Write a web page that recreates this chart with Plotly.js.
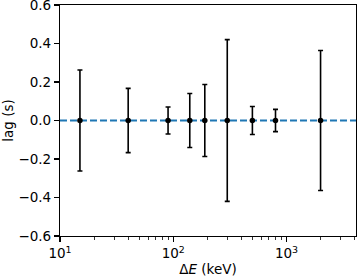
<!DOCTYPE html>
<html><head><meta charset="utf-8">
<script src="https://cdn.plot.ly/plotly-3.0.1.min.js"></script>
<style>html,body{margin:0;padding:0;background:#fff}#c{width:357px;height:277px}</style>
</head><body><div id="c"></div>
<script>
const energy = [15, 40, 90, 140, 190, 300, 500, 800, 2000];
const lag = [0, 0, 0, 0, 0, 0, 0, 0, 0];
const lagErr = [0.262, 0.167, 0.070, 0.140, 0.187, 0.420, 0.073, 0.058, 0.364];
const xTickVals = [10, 100, 1000];
const xTickText = ['10<sup>1</sup>', '10<sup>2</sup>', '10<sup>3</sup>'];
const refLag = 0;

const font = {family: 'DejaVu Sans', size: 13.5, color: '#000'};
const traces = [{
  x: energy, y: lag, type: 'scatter', mode: 'markers',
  marker: {color: '#000', size: 5.5},
  error_y: {type: 'data', array: lagErr, visible: true, color: '#000', thickness: 1.6, width: 2.5},
  showlegend: false, hoverinfo: 'skip'
}];
const layout = {
  width: 357, height: 277,
  margin: {l: 60.3, r: 0.7, t: 5, b: 41},
  paper_bgcolor: '#fff', plot_bgcolor: '#fff',
  font: font,
  showlegend: false,
  xaxis: {
    type: 'log', range: [1, 3.614], autorange: false,
    tickvals: xTickVals, ticktext: xTickText,
    ticks: 'outside', ticklen: 5, tickwidth: 1.1, tickcolor: '#000',
    showline: true, linecolor: '#000', linewidth: 1.1, mirror: true,
    showgrid: false, zeroline: false, ticklabeloverflow: 'allow',
    minor: {ticks: 'outside', ticklen: 3, tickwidth: 0.8, tickcolor: '#000', dtick: 'D1', showgrid: false},
    tickfont: font,
    title: {text: 'Δ<i>E</i> (keV)', font: font, standoff: 3}
  },
  yaxis: {
    range: [-0.6, 0.6], autorange: false, dtick: 0.2, tick0: -0.6, tickformat: '.1f',
    ticks: 'outside', ticklen: 5, tickwidth: 1.1, tickcolor: '#000',
    showline: true, linecolor: '#000', linewidth: 1.1, mirror: true,
    showgrid: false, zeroline: false, ticklabeloverflow: 'allow',
    tickfont: font,
    title: {text: 'lag (s)', font: font, standoff: 5}
  },
  shapes: [{
    type: 'line', xref: 'paper', yref: 'y', x0: 0, x1: 1, y0: refLag, y1: refLag,
    line: {color: '#1f77b4', width: 2, dash: '7px,3px'}, layer: 'below'
  }]
};
Plotly.newPlot('c', traces, layout, {displayModeBar: false, staticPlot: true});
</script>
</body></html>
